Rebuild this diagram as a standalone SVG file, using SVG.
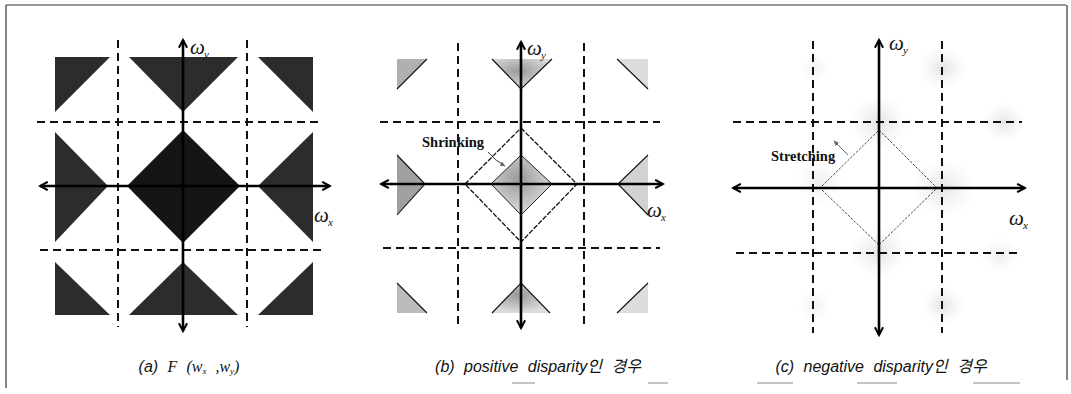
<svg xmlns="http://www.w3.org/2000/svg" width="1071" height="394" viewBox="0 0 1071 394">
<style>
.dash{stroke:#111;stroke-width:2;stroke-dasharray:8 5;fill:none}
.axis{stroke:#000;stroke-width:2.6;fill:none}
.edge{stroke:#111;stroke-width:1.1;fill:none}
.om{font-family:"Liberation Serif",serif;font-style:italic;font-size:21px;fill:#111}
.sub{font-family:"Liberation Serif",serif;font-style:italic;font-size:11px;fill:#111}
.cap{font-family:"Liberation Sans","Noto Sans CJK KR",sans-serif;font-style:italic;font-size:16px;fill:#111;word-spacing:5px}
.lbl{font-family:"Liberation Serif",serif;font-weight:bold;font-size:14.5px;fill:#111}
.frame{stroke:#333;stroke-width:1.2;fill:none}
</style>
<defs>
<marker id="ah" viewBox="0 0 10 10" refX="8.5" refY="5" markerWidth="4" markerHeight="4" orient="auto-start-reverse" markerUnits="strokeWidth">
<path d="M1,1 L8.5,5 L1,9" fill="none" stroke="#000" stroke-width="2"/>
</marker>
<marker id="ahs" viewBox="0 0 10 10" refX="8" refY="5" markerWidth="6" markerHeight="6" orient="auto" markerUnits="strokeWidth">
<path d="M0,1 L9,5 L0,9 z" fill="#666"/>
</marker>
<radialGradient id="shadeB" cx="0.45" cy="0.4" r="0.6">
<stop offset="0" stop-color="#999"/>
<stop offset="1" stop-color="#ddd"/>
</radialGradient>
<radialGradient id="blob" cx="0.5" cy="0.5" r="0.5">
<stop offset="0" stop-color="#bbb" stop-opacity="0.4"/>
<stop offset="1" stop-color="#ddd" stop-opacity="0"/>
</radialGradient>
</defs>

<g id="frame">
<line class="frame" x1="6" y1="5" x2="1066" y2="5"/>
<line class="frame" x1="6" y1="5" x2="6" y2="388"/>
<line class="frame" x1="1067" y1="5" x2="1067" y2="380"/>
<g stroke="#888" stroke-width="1">
<line x1="512" y1="383" x2="535" y2="383"/>
<line x1="648" y1="383" x2="668" y2="383"/>
<line x1="757" y1="383" x2="793" y2="383"/>
<line x1="857" y1="383" x2="897" y2="383"/>
<line x1="973" y1="383" x2="1020" y2="383"/>
</g>
</g>

<g id="panel-a">
<g id="a-shapes" fill="#2c2c2c">
<polygon points="183,130 240,186 183,243 127,186" fill="#151515"/>
<polygon points="129,57 238,57 183,112"/>
<polygon points="129,315 238,315 183,262"/>
<polygon points="55,132 55,242 108,186"/>
<polygon points="313,132 313,242 258,186"/>
<polygon points="55,57 110,57 55,112"/>
<polygon points="258,57 313,57 313,112"/>
<polygon points="55,262 55,315 110,315"/>
<polygon points="313,262 313,315 258,315"/>
</g>
<g id="a-grid">
<line class="dash" x1="118" y1="40" x2="118" y2="327"/>
<line class="dash" x1="247" y1="40" x2="247" y2="327"/>
<line class="dash" x1="37" y1="122" x2="323" y2="122"/>
<line class="dash" x1="40" y1="250" x2="325" y2="250"/>
</g>
<g id="a-axes">
<line class="axis" x1="40" y1="186" x2="330" y2="186" marker-start="url(#ah)" marker-end="url(#ah)"/>
<line class="axis" x1="183" y1="40" x2="183" y2="331" marker-start="url(#ah)" marker-end="url(#ah)"/>
</g>
<text class="om" x="190" y="54">ω</text><text class="sub" x="204" y="58">y</text>
<text class="om" x="314" y="222">ω</text><text class="sub" x="328" y="226">x</text>
<text class="cap" x="189" y="372" text-anchor="middle">(a) <tspan font-family="Liberation Serif" font-size="16">F (w</tspan><tspan font-family="Liberation Serif" font-size="9" dy="2">x</tspan><tspan font-family="Liberation Serif" font-size="16" dy="-2"> ,w</tspan><tspan font-family="Liberation Serif" font-size="9" dy="2">y</tspan><tspan font-family="Liberation Serif" font-size="16" dy="-2">)</tspan></text>
</g>

<g id="panel-b">
<g id="b-shapes">
<polygon points="521,155 552,184 521,215 491,184" fill="url(#shadeB)" stroke="#222" stroke-width="1"/>
<polygon points="492,59 552,59 521,89" fill="url(#shadeB)"/>
<polygon points="492,313 550,313 521,283" fill="url(#shadeB)"/>
<polygon points="397,155 397,215 425,184" fill="#a0a0a0"/>
<polygon points="648,155 648,215 618,184" fill="#d2d2d2"/>
<polygon points="397,59 427,59 397,89" fill="#b0b0b0"/>
<polygon points="617,59 648,59 648,89" fill="#dddddd"/>
<polygon points="397,283 397,313 427,313" fill="#bbbbbb"/>
<polygon points="648,283 648,313 617,313" fill="#dddddd"/>
<polyline class="edge" points="492,59 521,89 552,59"/>
<polyline class="edge" points="492,313 521,283 550,313"/>
<polyline class="edge" points="397,155 425,184 397,215"/>
<polyline class="edge" points="648,155 618,184 648,215"/>
<line class="edge" x1="427" y1="59" x2="397" y2="89"/>
<line class="edge" x1="617" y1="59" x2="648" y2="89"/>
<line class="edge" x1="397" y1="283" x2="427" y2="313"/>
<line class="edge" x1="648" y1="283" x2="617" y2="313"/>
<polygon points="521,128 577,184 521,242 465,184" fill="none" stroke="#111" stroke-width="1.3" stroke-dasharray="5 1.5"/>
</g>
<g id="b-grid">
<line class="dash" x1="458" y1="43" x2="458" y2="325"/>
<line class="dash" x1="584" y1="43" x2="584" y2="325"/>
<line class="dash" x1="380" y1="122" x2="660" y2="122"/>
<line class="dash" x1="383" y1="248" x2="660" y2="248"/>
</g>
<g id="b-axes">
<line class="axis" x1="381" y1="184" x2="663" y2="184" marker-start="url(#ah)" marker-end="url(#ah)"/>
<line class="axis" x1="521" y1="42" x2="521" y2="328" marker-start="url(#ah)" marker-end="url(#ah)"/>
</g>
<text class="lbl" x="422" y="147">Shrinking</text>
<path d="M488,152 Q494,160 505,166" fill="none" stroke="#333" stroke-width="1" marker-end="url(#ahs)"/>
<text class="om" x="527" y="55">ω</text><text class="sub" x="541" y="59">y</text>
<text class="om" x="647" y="217">ω</text><text class="sub" x="661" y="221">x</text>
<text class="cap" x="538" y="372" text-anchor="middle">(b) positive disparity인 경우</text>
</g>

<g id="panel-c">
<g id="c-blobs">
<ellipse cx="879" cy="122" rx="30" ry="28" fill="url(#blob)"/>
<ellipse cx="943" cy="68" rx="25" ry="22" fill="url(#blob)"/>
<ellipse cx="1004" cy="122" rx="22" ry="20" fill="url(#blob)"/>
<ellipse cx="943" cy="188" rx="32" ry="30" fill="url(#blob)"/>
<ellipse cx="820" cy="182" rx="26" ry="24" fill="url(#blob)" opacity="0.6"/>
<ellipse cx="879" cy="252" rx="30" ry="26" fill="url(#blob)"/>
<ellipse cx="1000" cy="255" rx="20" ry="18" fill="url(#blob)" opacity="0.7"/>
<ellipse cx="943" cy="305" rx="22" ry="20" fill="url(#blob)"/>
<ellipse cx="815" cy="305" rx="18" ry="18" fill="url(#blob)" opacity="0.5"/>
<ellipse cx="815" cy="68" rx="16" ry="14" fill="url(#blob)" opacity="0.5"/>
</g>
<polygon points="879,130 937,188 879,245 820,188" fill="none" stroke="#444" stroke-width="1" stroke-dasharray="2.5 1.5"/>
<g id="c-grid">
<line class="dash" x1="813" y1="41" x2="813" y2="333"/>
<line class="dash" x1="942" y1="41" x2="942" y2="333"/>
<line class="dash" x1="733" y1="122" x2="1022" y2="122"/>
<line class="dash" x1="736" y1="253" x2="1022" y2="253"/>
</g>
<g id="c-axes">
<line class="axis" x1="733" y1="188" x2="1025" y2="188" marker-start="url(#ah)" marker-end="url(#ah)"/>
<line class="axis" x1="879" y1="40" x2="879" y2="335" marker-start="url(#ah)" marker-end="url(#ah)"/>
</g>
<text class="lbl" x="771" y="161">Stretching</text>
<line x1="848" y1="155" x2="834" y2="141" stroke="#666" stroke-width="1" marker-end="url(#ahs)"/>
<text class="om" x="889" y="50">ω</text><text class="sub" x="903" y="54">y</text>
<text class="om" x="1009" y="225">ω</text><text class="sub" x="1023" y="229">x</text>
<text class="cap" x="881" y="372" text-anchor="middle">(c) negative disparity인 경우</text>
</g>
</svg>
